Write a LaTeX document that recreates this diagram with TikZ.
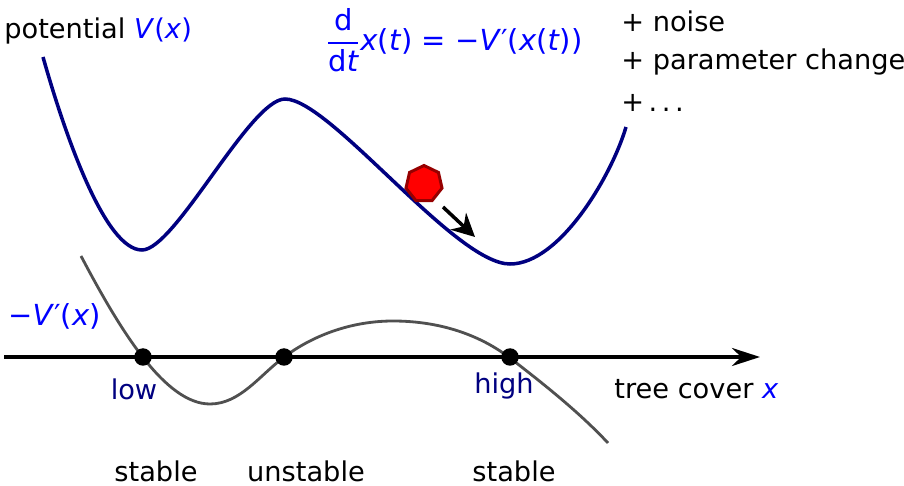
\documentclass[tikz,border=0pt]{standalone}
\usepackage{amsmath}
\usepackage{fontspec}
\setmainfont{DejaVu Sans}
\usepackage{tikz}
\usetikzlibrary{arrows.meta,positioning,shapes.geometric,calc}
\definecolor{potnavy}{RGB}{0,0,128}
\definecolor{mathblue}{RGB}{0,0,255}
\definecolor{forcegray}{RGB}{80,80,80}
\definecolor{balldark}{RGB}{150,0,0}

\begin{document}
\begin{tikzpicture}[x=0.02cm, y=-0.02cm, every node/.style={font=\fontsize{15.5}{18}\selectfont, inner sep=0pt}]
  \useasboundingbox (0,0) rectangle (904,486);
  \node[anchor=west] (pot) at (4,31) {potential \textcolor{mathblue}{\textit{V}(\textit{x})}};
  \node[anchor=west,text=mathblue,font=\fontsize{16.5}{19}\selectfont] (eq) at (326,40) {$\dfrac{\text{d}}{\text{d}\textit{t}}$\textit{x}(\textit{t}) = −\textit{V}′(\textit{x}(\textit{t}))};
  \node[anchor=west] (noise) at (621,21) {+ noise};
  \node[anchor=west] (param) at (621,62) {+ parameter change};
  \node[anchor=west] (more) at (621,103) {+\,.\,.\,.};

  \draw[potnavy, line width=2pt] (43,57) .. controls (65,135) and (105,250) .. (142,250)
    .. controls (175,250) and (250,99) .. (285,99)
    .. controls (330,99) and (455,264) .. (510,264)
    .. controls (560,264) and (612,175) .. (626,127);

  \node[regular polygon, regular polygon sides=7, minimum size=0.74cm, fill=red, draw=balldark, line width=1.7pt] (ball) at (424,184) {};
  \coordinate (rolls) at (443,207);
  \coordinate (rolle) at (475,237);
  \draw[line width=2pt, -{Stealth[length=0.46cm,width=0.46cm]}] (rolls) -- (rolle);

  \draw[forcegray, line width=1.6pt] (81,256) .. controls (120,330) and (165,404) .. (210,404)
    .. controls (240,404) and (260,375) .. (283,358)
    .. controls (306,340) and (345,321) .. (393,321)
    .. controls (440,321) and (480,335) .. (510,358)
    .. controls (545,385) and (580,413) .. (608,443);

  \coordinate (axs) at (4,357);
  \coordinate (axe) at (760,357);
  \draw[line width=2pt, -{Stealth[length=0.56cm,width=0.36cm]}] (axs) -- (axe);

  \node[circle, fill=black, minimum size=0.35cm] (dlow) at (143,357) {};
  \node[circle, fill=black, minimum size=0.35cm] (dmid) at (284,357) {};
  \node[circle, fill=black, minimum size=0.35cm] (dhigh) at (510,357) {};

  \node[anchor=west, text=mathblue, font=\fontsize{16.5}{19}\selectfont] (force) at (8,316) {−\textit{V}′(\textit{x})};
  \node[text=potnavy] (low) at (134,389) {low};
  \node[text=potnavy] (high) at (504,386) {high};
  \node[anchor=west] (cover) at (614,389) {tree cover \textcolor{mathblue}{\textit{x}}};

  \node (st1) at (156,471) {stable};
  \node (unst) at (306,471) {unstable};
  \node (st2) at (514,471) {stable};
\end{tikzpicture}
\end{document}
